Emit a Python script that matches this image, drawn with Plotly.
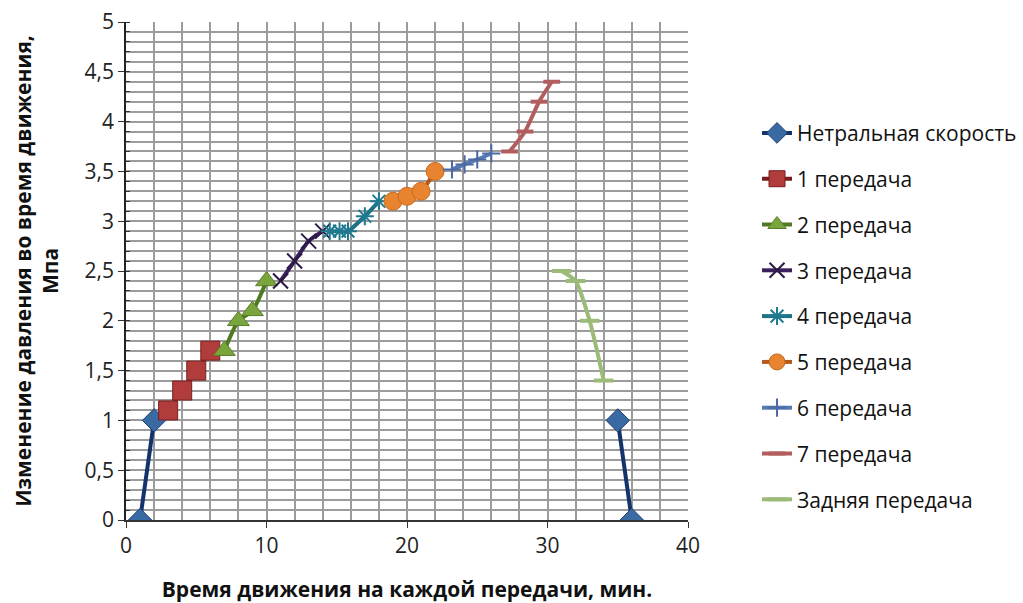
import plotly.graph_objects as go

# Pressure change (MPa) vs. time in each gear (min)
neutral_x = [1, 2, None, 35, 36]
neutral_y = [0, 1, None, 1, 0]

gear1_x = [3, 4, 5, 6]
gear1_y = [1.1, 1.3, 1.5, 1.7]

gear2_x = [7, 8, 9, 10]
gear2_y = [1.7, 2.0, 2.1, 2.4]

gear3_x = [11, 12, 13, 14]
gear3_y = [2.4, 2.6, 2.8, 2.9]

gear4_x = [14.5, 15.2, 15.8, 17, 18]
gear4_y = [2.9, 2.9, 2.9, 3.05, 3.2]

gear5_x = [19, 20, 21, 22]
gear5_y = [3.2, 3.25, 3.3, 3.5]

gear6_x = [23.2, 24.1, 25, 26]
gear6_y = [3.52, 3.57, 3.62, 3.68]

gear7_x = [27.3, 28.4, 29.4, 30.3]
gear7_y = [3.7, 3.9, 4.2, 4.4]

reverse_x = [31, 32, 33, 34]
reverse_y = [2.5, 2.4, 2.0, 1.4]

FONT = "Open Sans"
FS = 21

series = [
    dict(name="Нетральная скорость", x=neutral_x, y=neutral_y, line="#15336b",
         marker=dict(symbol="diamond", size=18, color="#3a6aa3",
                     line=dict(color="#1f3f70", width=1))),
    dict(name="1 передача", x=gear1_x, y=gear1_y, line="#7a1c1c",
         marker=dict(symbol="square", size=19, color="#b03c3c",
                     line=dict(color="#7a1f1f", width=1))),
    dict(name="2 передача", x=gear2_x, y=gear2_y, line="#4f7a22",
         marker=dict(symbol="triangle-up", size=19, color="#7aa43c",
                     line=dict(color="#587f28", width=1))),
    dict(name="3 передача", x=gear3_x, y=gear3_y, line="#3a1f5e",
         marker=dict(symbol="x-thin", size=15, color="#2a1a45",
                     line=dict(color="#2a1a45", width=2))),
    dict(name="4 передача", x=gear4_x, y=gear4_y, line="#1f6f85",
         marker=dict(symbol="asterisk", size=15, color="#1f7a8f",
                     line=dict(color="#1f7a8f", width=2))),
    dict(name="5 передача", x=gear5_x, y=gear5_y, line="#b35a1a",
         marker=dict(symbol="circle", size=18, color="#e8832f",
                     line=dict(color="#c86a20", width=1))),
    dict(name="6 передача", x=gear6_x, y=gear6_y, line="#5679b0",
         marker=dict(symbol="cross-thin", size=13, color="#4a6aa5",
                     line=dict(color="#4a6aa5", width=2))),
    dict(name="7 передача", x=gear7_x, y=gear7_y, line="#b35e5e",
         marker=dict(symbol="line-ew", size=12, color="#b35e5e",
                     line=dict(color="#b35e5e", width=4))),
    dict(name="Задняя передача", x=reverse_x, y=reverse_y, line="#9dbb78",
         marker=dict(symbol="line-ew", size=14, color="#9dbb78",
                     line=dict(color="#9dbb78", width=4))),
]

fig = go.Figure()
for i, s in enumerate(series):
    fig.add_trace(go.Scatter(
        x=s["x"], y=s["y"], name=s["name"], mode="lines+markers",
        legendgroup=f"g{i}",
        line=dict(color=s["line"], width=4, shape="spline", smoothing=0.6),
        marker=s["marker"],
    ))

grid = "#9c9c9c"
fig.update_layout(
    width=1023, height=603,
    margin=dict(l=126, r=335, t=22, b=83),
    paper_bgcolor="white", plot_bgcolor="white",
    separators=", ",
    font=dict(family=FONT, size=FS, color="#222222"),
    showlegend=True,
    legend=dict(
        xref="container", yref="container",
        x=0.740, xanchor="left", y=0.813, yanchor="top",
        maxheight=600,
        font=dict(family=FONT, size=FS, color="#111111"),
        tracegroupgap=15.5, bgcolor="rgba(0,0,0,0)",
    ),
    xaxis=dict(
        range=[0, 40], dtick=10, tick0=0, automargin=False,
        showline=True, linecolor="#333333", linewidth=1.5,
        ticks="outside", ticklen=6, tickcolor="#333333",
        showgrid=True, gridcolor=grid, gridwidth=1.5,
        minor=dict(dtick=2, showgrid=True, gridcolor=grid, gridwidth=1.5),
        zeroline=False,
        title=dict(text="<b>Время движения на каждой передачи, мин.</b>",
                   font=dict(family=FONT, size=FS, color="#111111"), standoff=24),
    ),
    yaxis=dict(
        range=[0, 5], dtick=0.5, tick0=0, automargin=False,
        showline=True, linecolor="#222222", linewidth=1.5,
        ticks="outside", ticklen=6, tickcolor="#333333",
        showgrid=True, gridcolor=grid, gridwidth=1.5,
        minor=dict(dtick=0.1, showgrid=True, gridcolor=grid, gridwidth=1.5,
                   ticks="inside", ticklen=4, tickcolor="#333333"),
        zeroline=False,
        title=dict(text="<b>Изменение давления во время движения,<br>Мпа</b>",
                   font=dict(family=FONT, size=FS, color="#111111"), standoff=20),
    ),
)

fig.write_html("out.html")
